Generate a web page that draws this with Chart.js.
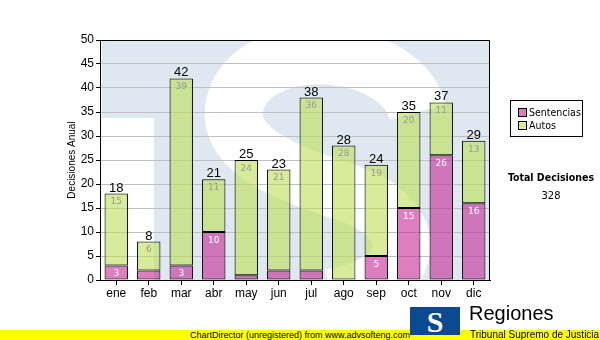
<!DOCTYPE html>
<html>
<head>
<meta charset="utf-8">
<script src="https://cdn.jsdelivr.net/npm/chart.js@4/dist/chart.umd.min.js"></script>
<style>
  html, body { margin: 0; padding: 0; background: #fff; }
  #wrap { position: relative; width: 600px; height: 340px; overflow: hidden; }
  #chart { position: absolute; left: 0; top: 0; }
  .legend { position: absolute; left: 510px; top: 100px; width: 71px; height: 35px;
    border: 1px solid #000; background: #fff; font: 10.5px "DejaVu Sans Condensed", "DejaVu Sans", sans-serif; }
  .legend div { position: absolute; left: 7px; white-space: nowrap; line-height: 12px; }
  .legend span { display: inline-block; width: 7px; height: 7px; border: 1px solid #000;
    margin-right: 2px; vertical-align: -1px; }
  .total { position: absolute; left: 501px; width: 100px; text-align: center;
    font: bold 10.5px "DejaVu Sans Condensed", "DejaVu Sans", sans-serif; }
  .footer { position: absolute; left: 0; top: 330px; width: 600px; height: 10px;
    background: #ffff00; font: 9px "Liberation Sans", Arial, sans-serif; line-height: 10px;
    text-align: center; color: #000; }
  .logo { position: absolute; left: 410px; top: 307px; width: 50px; height: 28px;
    background: #0b4a8e; color: #fff; font: bold 30px "Liberation Serif", serif;
    text-align: center; line-height: 30px; overflow: hidden; }
  .reg { position: absolute; left: 469px; top: 302px; font: 20px "Liberation Sans", Arial, sans-serif; color: #000; }
  .sub { position: absolute; left: 470px; top: 329px; font: 10px "Liberation Sans", Arial, sans-serif; color: #000; white-space: nowrap; }
</style>
</head>
<body>
<div id="wrap">
  <canvas id="chart" width="600" height="340"></canvas>
  <div class="legend">
    <div style="top:5px"><span style="background:#da7abf"></span>Sentencias</div>
    <div style="top:18px"><span style="background:#d5eb98"></span>Autos</div>
  </div>
  <div class="total" style="top:171px">Total Decisiones</div>
  <div class="total" style="top:189px; font-weight:normal; font-size:11px">328</div>
  <div class="footer">ChartDirector (unregistered) from www.advsofteng.com</div>
  <div class="logo">S</div>
  <div class="reg">Regiones</div>
  <div class="sub">Tribunal Supremo de Justicia</div>
</div>
<script>
// Data
const meses = ['ene', 'feb', 'mar', 'abr', 'may', 'jun', 'jul', 'ago', 'sep', 'oct', 'nov', 'dic'];
const sentencias = [3, 2, 3, 10, 1, 2, 2, 0, 5, 15, 26, 16];
const autos = [15, 6, 39, 11, 24, 21, 36, 28, 19, 20, 11, 13];
const yMax = 50;
const yStep = 5;

// Watermark behind plot area (big "S" logo)
const watermark = {
  id: 'watermark',
  beforeDraw(chart) {
    const { ctx, chartArea: a } = chart;
    ctx.save();
    ctx.beginPath();
    ctx.rect(a.left, a.top, a.right - a.left, a.bottom - a.top);
    ctx.clip();
    ctx.fillStyle = '#dfe8f1';
    ctx.fillRect(a.left + 2, a.top, a.right - a.left - 2, a.bottom - a.top);
    ctx.fillStyle = '#fff';
    ctx.fillRect(a.left, a.top + 78, 54, a.bottom - a.top);
    ctx.strokeStyle = '#fff';
    ctx.lineWidth = 58;
    ctx.lineCap = 'butt';
    ctx.beginPath();
    ctx.moveTo(418, 112);
    ctx.bezierCurveTo(400, 45, 265, 35, 238, 95);
    ctx.bezierCurveTo(215, 148, 290, 175, 345, 192);
    ctx.bezierCurveTo(425, 218, 420, 285, 330, 298);
    ctx.stroke();
    ctx.restore();
  }
};

// Frame, totals and segment labels
const labels = {
  id: 'labels',
  afterDatasetsDraw(chart) {
    const { ctx, chartArea: a } = chart;
    ctx.save();
    ctx.strokeStyle = '#000';
    ctx.lineWidth = 1;
    ctx.beginPath();
    ctx.moveTo(a.left, a.top + 0.5);
    ctx.lineTo(a.right - 0.5, a.top + 0.5);
    ctx.lineTo(a.right - 0.5, a.bottom);
    ctx.stroke();

    const m0 = chart.getDatasetMeta(0);
    const m1 = chart.getDatasetMeta(1);
    ctx.textAlign = 'center';
    ctx.font = '9px "DejaVu Sans", sans-serif';
    ctx.textBaseline = 'top';
    meses.forEach((m, i) => {
      const b0 = m0.data[i], b1 = m1.data[i];
      if (sentencias[i] >= 3) {
        ctx.fillStyle = '#fff';
        ctx.fillText(sentencias[i], b0.x, b0.y + 4);
      }
      if (autos[i] >= 3) {
        ctx.fillStyle = '#999';
        ctx.fillText(autos[i], b1.x, b1.y + 4);
      }
    });
    ctx.font = '13px "Liberation Sans", Arial, sans-serif';
    ctx.textBaseline = 'alphabetic';
    ctx.fillStyle = '#000';
    meses.forEach((m, i) => {
      const b1 = m1.data[i];
      ctx.fillText(sentencias[i] + autos[i], b1.x, b1.y - 2);
    });
    ctx.restore();
  }
};

const tickFont = { family: '"Liberation Sans", Arial, sans-serif', size: 12 };

new Chart(document.getElementById('chart'), {
  type: 'bar',
  data: {
    labels: meses,
    datasets: [{
      label: 'Sentencias',
      data: sentencias,
      backgroundColor: 'rgba(196, 40, 150, 0.6)',
      borderColor: '#000',
      borderWidth: 1,
      borderSkipped: false
    }, {
      label: 'Autos',
      data: autos,
      backgroundColor: 'rgba(188, 222, 86, 0.6)',
      borderColor: '#000',
      borderWidth: 1,
      borderSkipped: false
    }]
  },
  options: {
    responsive: false,
    animation: false,
    layout: { padding: { left: 0, top: 40, right: 110, bottom: 0 } },
    datasets: { bar: { barPercentage: 0.72, categoryPercentage: 1 } },
    plugins: { legend: { display: false }, tooltip: { enabled: false } },
    scales: {
      x: {
        stacked: true,
        afterFit: s => { s.height = 60; },
        grid: { drawOnChartArea: false, offset: false, tickLength: 5, tickColor: '#000' },
        border: { color: '#000' },
        ticks: { color: '#000', font: tickFont, padding: 1 }
      },
      y: {
        stacked: true,
        min: 0,
        max: yMax,
        afterFit: s => { s.width = 100; },
        grid: { color: '#c0c0c0', tickLength: 4, tickColor: '#000' },
        border: { color: '#000' },
        ticks: { stepSize: yStep, color: '#000', font: tickFont, padding: 2 },
        title: {
          display: true,
          text: 'Decisiones Anual',
          color: '#000',
          font: { family: '"Liberation Sans", Arial, sans-serif', size: 10 },
          padding: { top: 66, bottom: 0 }
        }
      }
    }
  },
  plugins: [watermark, labels]
});
</script>
</body>
</html>
